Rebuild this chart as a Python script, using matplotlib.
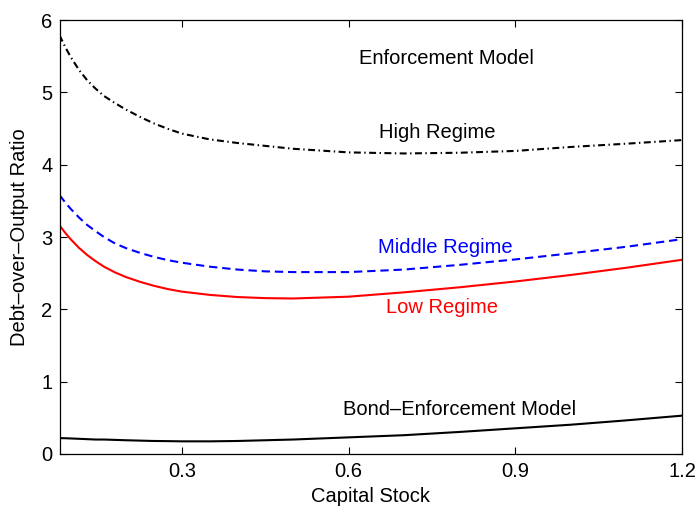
import matplotlib
matplotlib.use("Agg")
import matplotlib.pyplot as plt

plt.rcParams['font.family'] = ['Liberation Sans', 'DejaVu Sans']
plt.rcParams['font.size'] = 14.5
plt.rcParams['lines.scale_dashes'] = False

# capital stock grid and debt/output ratios
capital = [0.08, 0.09, 0.1, 0.115, 0.13, 0.145, 0.16, 0.18, 0.2, 0.225, 0.25,
           0.275, 0.3, 0.35, 0.4, 0.45, 0.5, 0.6, 0.7, 0.8, 0.9, 1.0, 1.1, 1.2]
high_regime = [5.79, 5.63, 5.49, 5.31, 5.165, 5.05, 4.95, 4.85, 4.76, 4.66, 4.57,
               4.495, 4.43, 4.35, 4.30, 4.26, 4.22, 4.17, 4.155, 4.165, 4.19,
               4.245, 4.29, 4.34]
middle_regime = [3.58, 3.48, 3.39, 3.27, 3.165, 3.08, 3.0, 2.91, 2.845, 2.78, 2.725,
                 2.68, 2.645, 2.59, 2.55, 2.525, 2.515, 2.515, 2.55, 2.615, 2.69,
                 2.775, 2.865, 2.97]
low_regime = [3.16, 3.06, 2.97, 2.85, 2.75, 2.665, 2.59, 2.51, 2.445, 2.38, 2.325,
              2.28, 2.245, 2.20, 2.17, 2.155, 2.15, 2.175, 2.235, 2.305, 2.385,
              2.475, 2.575, 2.685]
bond_model = [0.22, 0.218, 0.215, 0.21, 0.205, 0.2, 0.2, 0.195, 0.19, 0.185, 0.18,
              0.178, 0.175, 0.175, 0.18, 0.19, 0.2, 0.23, 0.26, 0.305, 0.355,
              0.405, 0.465, 0.53]

xticks = [0.3, 0.6, 0.9, 1.2]
yticks = [0, 1, 2, 3, 4, 5, 6]

fig = plt.figure(figsize=(6.97, 5.08), dpi=100)
ax = fig.add_axes([0.0854, 0.1063, 0.893, 0.8543])

ax.plot(capital, high_regime, color='black', lw=1.5, dashes=(5, 2.5, 1, 2.5))
ax.plot(capital, middle_regime, color='blue', lw=1.5, dashes=(6, 3.5))
ax.plot(capital, low_regime, color='red', lw=1.5)
ax.plot(capital, bond_model, color='black', lw=1.5)

ax.text(0.776, 5.47, 'Enforcement Model', ha='center', va='center')
ax.text(0.759, 4.44, 'High Regime', ha='center', va='center')
ax.text(0.774, 2.86, 'Middle Regime', ha='center', va='center', color='blue')
ax.text(0.768, 2.02, 'Low Regime', ha='center', va='center', color='red')
ax.text(0.80, 0.62, 'Bond\u2013Enforcement Model', ha='center', va='center')

ax.set_xlim(0.08, 1.2)
ax.set_ylim(0, 6)
ax.set_xticks(xticks)
ax.set_xticklabels(['0.3', '0.6', '0.9', '1.2'])
ax.set_yticks(yticks)
ax.tick_params(direction='in', top=True, right=True, length=5, width=0.8)
ax.tick_params(axis='x', pad=6)
ax.tick_params(axis='y', pad=5)
for s in ax.spines.values():
    s.set_linewidth(0.9)

ax.set_xlabel('Capital Stock', labelpad=4)
ax.set_ylabel('Debt\u2013over\u2013Output Ratio', labelpad=9)

fig.savefig('out.png', dpi=100)
